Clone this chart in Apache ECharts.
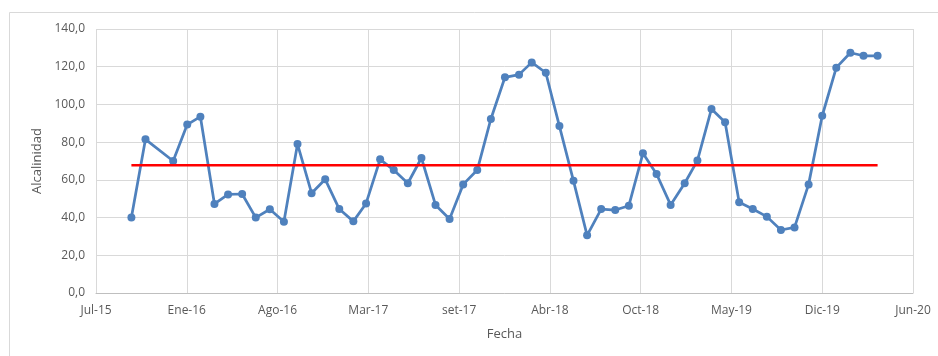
<!DOCTYPE html>
<html>
<head>
<meta charset="utf-8">
<script src="https://cdn.jsdelivr.net/npm/echarts@6/dist/echarts.min.js"></script>
<style>
  html, body { margin: 0; padding: 0; background: #ffffff; }
  #chart { width: 938px; height: 356px; }
</style>
</head>
<body>
<div id="chart"></div>
<script>
// Monthly sampling dates (December 2015 was not sampled)
const sampleMonths = [
  '2015-10', '2015-11',
  '2016-01', '2016-02', '2016-03', '2016-04', '2016-05', '2016-06',
  '2016-07', '2016-08', '2016-09', '2016-10', '2016-11', '2016-12',
  '2017-01', '2017-02', '2017-03', '2017-04', '2017-05', '2017-06',
  '2017-07', '2017-08', '2017-09', '2017-10', '2017-11', '2017-12',
  '2018-01', '2018-02', '2018-03', '2018-04', '2018-05', '2018-06',
  '2018-07', '2018-08', '2018-09', '2018-10', '2018-11', '2018-12',
  '2019-01', '2019-02', '2019-03', '2019-04', '2019-05', '2019-06',
  '2019-07', '2019-08', '2019-09', '2019-10', '2019-11', '2019-12',
  '2020-01', '2020-02', '2020-03', '2020-04'
];

// Alkalinity measured each month
const alcalinidad = [
  40.0, 81.5,
  70.0, 89.3, 93.5, 47.2, 52.3, 52.5,
  40.0, 44.4, 37.8, 79.0, 52.9, 60.3,
  44.5, 38.0, 47.5, 70.9, 65.2, 58.2,
  71.6, 46.7, 39.2, 57.6, 65.2, 92.3,
  114.4, 115.8, 122.3, 116.8, 88.5, 59.5,
  30.6, 44.5, 44.0, 46.3, 74.1, 63.1,
  46.7, 58.2, 70.2, 97.6, 90.5, 48.1,
  44.5, 40.5, 33.4, 34.8, 57.6, 94.0,
  119.5, 127.4, 125.8, 125.8
];

// Reference level drawn across the whole period
const nivelReferencia = 67.8;

// Date axis: origin date and tick labels every 200 days
const axisOrigin = '2015-07-15';
const tickStepDays = 200;
const xTickLabels = ['Jul-15', 'Ene-16', 'Ago-16', 'Mar-17', 'set-17',
                     'Abr-18', 'Oct-18', 'May-19', 'Dic-19', 'Jun-20'];
const yTicks = [0, 20, 40, 60, 80, 100, 120, 140];

const DAY = 86400000;
function toUtc(s) {
  const p = s.split('-').map(Number);
  return Date.UTC(p[0], p[1] - 1, p[2] || 1);
}
const originMs = toUtc(axisOrigin);
function daysFromOrigin(s) {
  return Math.round((toUtc(s) - originMs) / DAY);
}

const lineData = sampleMonths.map((m, i) => [daysFromOrigin(m), alcalinidad[i]]);
const refData = [
  [daysFromOrigin(sampleMonths[0]), nivelReferencia],
  [daysFromOrigin(sampleMonths[sampleMonths.length - 1]), nivelReferencia]
];

const labelFont = 'Open Sans';
const chart = echarts.init(document.getElementById('chart'), null, { renderer: 'canvas' });

chart.setOption({
  backgroundColor: '#ffffff',
  animation: false,
  graphic: [{
    type: 'rect',
    silent: true,
    shape: { x: 9.5, y: 12.5, width: 940, height: 360 },
    style: { fill: 'none', stroke: '#d9d9d9', lineWidth: 1 }
  }],
  grid: { left: 96, right: 25, top: 29, bottom: 63, containLabel: false },
  xAxis: {
    type: 'value',
    min: 0,
    max: tickStepDays * (xTickLabels.length - 1),
    interval: tickStepDays,
    name: 'Fecha',
    nameLocation: 'middle',
    nameGap: 35,
    nameTextStyle: { color: '#595959', fontSize: 13, fontFamily: labelFont },
    axisLine: { show: true, lineStyle: { color: '#bfbfbf', width: 1 } },
    axisTick: { show: false },
    axisLabel: {
      color: '#595959', fontSize: 12, fontFamily: labelFont, margin: 12,
      formatter: v => xTickLabels[Math.round(v / tickStepDays)] || ''
    },
    splitLine: { show: true, lineStyle: { color: '#d9d9d9', width: 1 } }
  },
  yAxis: {
    type: 'value',
    min: yTicks[0],
    max: yTicks[yTicks.length - 1],
    interval: yTicks[1] - yTicks[0],
    name: 'Alcalinidad',
    nameLocation: 'middle',
    nameGap: 50,
    nameTextStyle: { color: '#595959', fontSize: 13, fontFamily: labelFont },
    axisLine: { show: false },
    axisTick: { show: false },
    axisLabel: {
      color: '#595959', fontSize: 12, fontFamily: labelFont, margin: 11,
      formatter: v => v.toFixed(1).replace('.', ',')
    },
    splitLine: { show: true, lineStyle: { color: '#d9d9d9', width: 1 } }
  },
  series: [
    {
      name: 'Alcalinidad',
      type: 'line',
      data: lineData,
      symbol: 'circle',
      symbolSize: 8,
      lineStyle: { color: '#4f81bd', width: 2.75 },
      itemStyle: { color: '#4f81bd' },
      z: 2
    },
    {
      name: 'Referencia',
      type: 'line',
      data: refData,
      symbol: 'none',
      lineStyle: { color: '#ff0000', width: 2.5 },
      z: 3
    }
  ]
});
</script>
</body>
</html>
